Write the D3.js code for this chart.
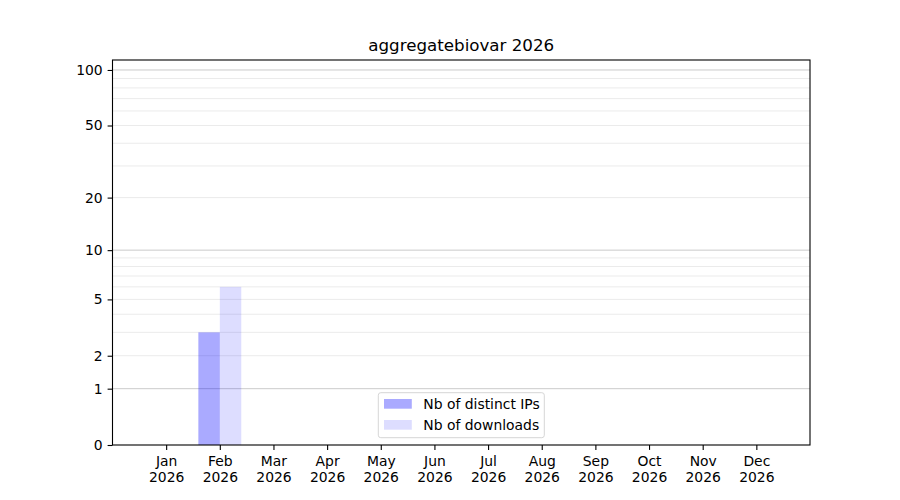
<!DOCTYPE html>
<html>
<head>
<meta charset="utf-8">
<script src="https://cdn.jsdelivr.net/npm/d3@7"></script>
<style>
  body { margin: 0; background: #fff; }
  text { font-family: "DejaVu Sans", sans-serif; fill: #000; }
</style>
</head>
<body>
<div id="chart"></div>
<script>
// Data
const months = ["Jan", "Feb", "Mar", "Apr", "May", "Jun", "Jul", "Aug", "Sep", "Oct", "Nov", "Dec"];
const year = "2026";
const distinctIPs = [0, 3, 0, 0, 0, 0, 0, 0, 0, 0, 0, 0];
const downloads = [0, 6, 0, 0, 0, 0, 0, 0, 0, 0, 0, 0];
const yTicks = [0, 1, 2, 5, 10, 20, 50, 100];
const majorGrid = [1, 10, 100];
const minorGrid = [2, 3, 4, 5, 6, 7, 8, 9, 20, 30, 40, 50, 60, 70, 80, 90];
const seriesNames = ["Nb of distinct IPs", "Nb of downloads"];

// Figure dimensions (matplotlib-like 900x500, default subplot margins)
const W = 900, H = 500;
const margin = { top: 60, right: 90, bottom: 55, left: 112.5 };
const width = W - margin.left - margin.right;
const height = H - margin.top - margin.bottom;

const svg = d3.select("#chart")
    .append("svg")
    .attr("width", W)
    .attr("height", H)
    .append("g")
    .attr("transform", `translate(${margin.left}, ${margin.top})`);

// x: month index, y: log(1+x) via symlog with constant 1
const x = d3.scaleLinear()
    .domain([-1, 12])
    .range([0, width]);

const y = d3.scaleSymlog()
    .constant(1)
    .domain([0, 113.2])
    .range([height, 0]);

const barW = 0.4;
const colorIPs = "rgba(0,0,255,0.333)";
const colorDl = "rgba(0,0,255,0.133)";

// grid lines
svg.append("g")
    .selectAll("line")
    .data(minorGrid)
    .enter()
    .append("line")
    .attr("x1", 0)
    .attr("x2", width)
    .attr("y1", d => y(d))
    .attr("y2", d => y(d))
    .attr("stroke", "#ebebeb")
    .attr("stroke-width", 1);

svg.append("g")
    .selectAll("line")
    .data(majorGrid)
    .enter()
    .append("line")
    .attr("x1", 0)
    .attr("x2", width)
    .attr("y1", d => y(d))
    .attr("y2", d => y(d))
    .attr("stroke", "#cbcbcb")
    .attr("stroke-width", 1);

// bars
svg.append("g")
    .selectAll("rect")
    .data(distinctIPs)
    .enter()
    .append("rect")
    .attr("x", (d, i) => x(i - barW))
    .attr("width", x(barW) - x(0))
    .attr("y", d => y(d))
    .attr("height", d => height - y(d))
    .attr("fill", colorIPs);

svg.append("g")
    .selectAll("rect")
    .data(downloads)
    .enter()
    .append("rect")
    .attr("x", (d, i) => x(i))
    .attr("width", x(barW) - x(0))
    .attr("y", d => y(d))
    .attr("height", d => height - y(d))
    .attr("fill", colorDl);

// axes
const yAxis = svg.append("g")
    .call(d3.axisLeft(y).tickValues(yTicks).tickFormat(d3.format("d")).tickSizeOuter(0).tickSize(4.9).tickPadding(4.9));

const xAxis = svg.append("g")
    .attr("transform", `translate(0, ${height})`)
    .call(d3.axisBottom(x).tickValues(d3.range(12)).tickFormat("").tickSizeOuter(0).tickSize(4.9));

[yAxis, xAxis].forEach(a => {
    a.selectAll(".domain").remove();
    a.selectAll("line").attr("stroke", "#000").attr("stroke-width", 1.1);
    a.selectAll("text").style("font-size", "13.9px").style("font-family", "DejaVu Sans");
});

// two-line month labels
xAxis.selectAll(".tick")
    .append("text")
    .attr("text-anchor", "middle")
    .style("font-size", "13.9px")
    .selectAll("tspan")
    .data(i => [months[i], year])
    .enter()
    .append("tspan")
    .attr("x", 0)
    .attr("y", (d, j) => 21 + j * 16.3)
    .text(d => d);

// frame
svg.append("rect")
    .attr("width", width)
    .attr("height", height)
    .attr("fill", "none")
    .attr("stroke", "#000")
    .attr("stroke-width", 1.1);

// title
svg.append("text")
    .attr("x", width / 2)
    .attr("y", -8.7)
    .attr("text-anchor", "middle")
    .style("font-size", "16.7px")
    .text("aggregatebiovar " + year);

// legend
const legend = svg.append("g")
    .attr("transform", `translate(${378.3 - margin.left}, ${392.7 - margin.top})`);

legend.append("rect")
    .attr("width", 166)
    .attr("height", 45)
    .attr("rx", 2.5)
    .attr("fill", "rgba(255,255,255,0.8)")
    .attr("stroke", "#d6d6d6")
    .attr("stroke-width", 1);

[colorIPs, colorDl].forEach((c, i) => {
    legend.append("rect")
        .attr("x", 5.7)
        .attr("y", 6.3 + i * 21)
        .attr("width", 27.8)
        .attr("height", 9.7)
        .attr("fill", c);

    legend.append("text")
        .attr("x", 45)
        .attr("y", 16 + i * 21)
        .style("font-size", "13.9px")
        .text(seriesNames[i]);
});
</script>
</body>
</html>
